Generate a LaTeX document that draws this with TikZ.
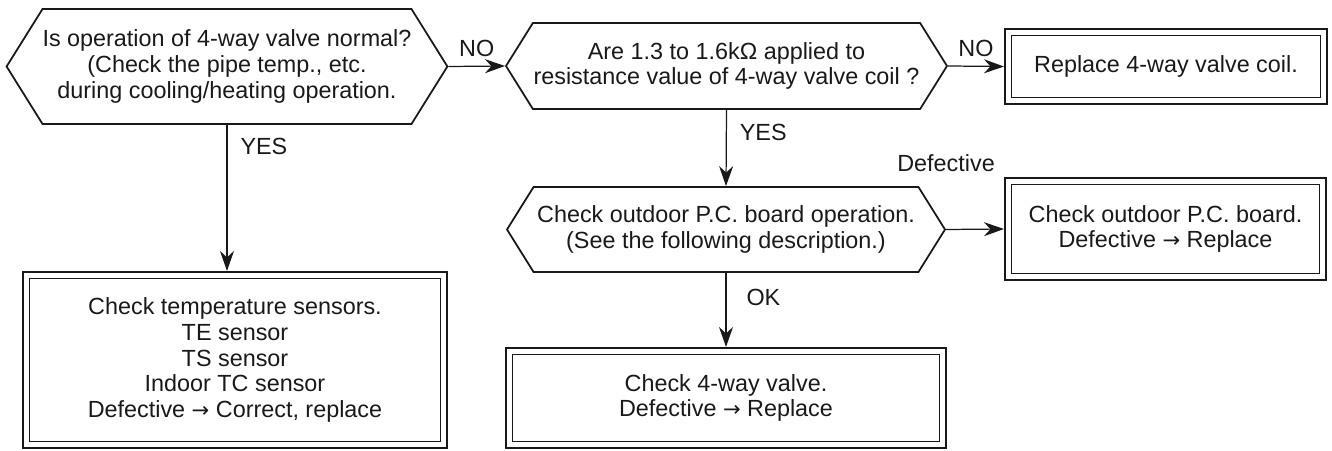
\documentclass[tikz,border=0pt]{standalone}
\usepackage{fontspec}
\setmainfont{Liberation Sans}
\newfontfamily\arrowfont{DejaVu Sans}
\usetikzlibrary{shapes.symbols,arrows.meta,positioning,calc}

\newcommand{\toarr}{{\arrowfont\fontsize{12}{14.6}\selectfont →}}

\begin{document}
\begin{tikzpicture}[
    font=\fontsize{13.3}{14.6}\selectfont,
    every node/.style={text=black!90},
    query/.style={signal, signal to=east and west, signal pointer angle=116, draw=black!90, line width=1pt, align=center, inner sep=0pt},
    result/.style={rectangle, draw=black!90, line width=1.2pt, align=center},
    arr/.style={draw=black!90, line width=0.7pt, -{Stealth[length=0.4cm, width=0.28cm, inset=0.13cm]}}
]
    \useasboundingbox (0,0) rectangle (26.64,9);

    % questions
    \node[query, minimum width=8.8cm, minimum height=2.3cm] (q1) at (4.54,7.67) {
        Is operation of 4-way valve normal?\\
        (Check the pipe temp., etc.\\
        during cooling/heating operation.
    };
    \node[query, minimum width=8.82cm, minimum height=1.72cm] (q2) at (14.53,7.68) {
        Are 1.3 to 1.6kΩ applied to\\
        resistance value of 4-way valve coil ?
    };
    \node[query, minimum width=8.76cm, minimum height=1.7cm] (q3) at (14.52,4.41) {
        Check outdoor P.C. board operation.\\
        (See the following description.)
    };

    % results
    \node[result, minimum width=6.44cm, minimum height=1.5cm] (coil) at (23.32,7.67) {Replace 4-way valve coil.};
    \node[result, minimum width=6.42cm, minimum height=2.04cm] (board) at (23.31,4.42) {
        Check outdoor P.C. board.\\
        Defective \toarr{} Replace
    };
    \node[result, minimum width=8.8cm, minimum height=2cm] (valve) at (14.52,1.04) {
        Check 4-way valve.\\
        Defective \toarr{} Replace
    };
    \node[result, minimum width=8.48cm, minimum height=3.52cm] (sens) at (4.7,1.8) {
        Check temperature sensors.\\
        TE sensor\\
        TS sensor\\
        Indoor TC sensor\\
        Defective \toarr{} Correct, replace
    };
    \foreach \b in {coil, board, valve, sens}
        \draw[black!90, line width=0.6pt] ([shift={(0.16,-0.16)}]\b.north west) rectangle ([shift={(-0.16,0.16)}]\b.south east);

    % connectors
    \draw[arr] (q1.east) -- (q2.west) node[midway, above=2pt] {NO};
    \draw[arr] (q2.east) -- (coil.west) node[midway, above=2pt] {NO};
    \draw[arr] (q1.south) -- (q1.south |- sens.north) node[pos=0.15, right=4pt] {YES};
    \draw[arr] (q2.south) -- (q3.north) node[pos=0.3, right=4pt] {YES};
    \draw[arr] (q3.east) -- (board.west) node[pos=0, above=1.02cm] {Defective};
    \draw[arr] (q3.south) -- (valve.north) node[pos=0.33, right=8pt] {OK};
\end{tikzpicture}
\end{document}
